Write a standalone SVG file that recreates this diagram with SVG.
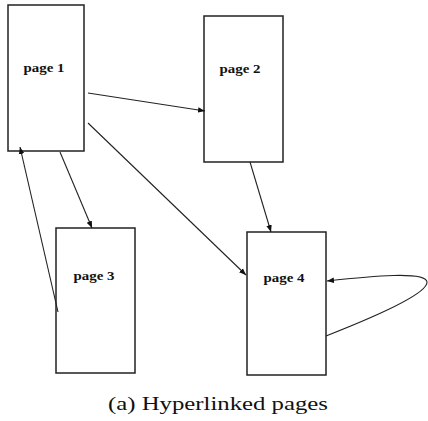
<svg xmlns="http://www.w3.org/2000/svg" width="428" height="421" viewBox="0 0 428 421">
<style>
.box{fill:#fff;stroke:#222;stroke-width:1.5}
.lbl{font-family:"Liberation Serif","Times New Roman",serif;font-weight:bold;font-size:13px;fill:#111;text-anchor:middle}
.edge{fill:none;stroke:#222;stroke-width:1.1}
.cap{font-family:"Liberation Serif","Times New Roman",serif;font-size:18px;fill:#111;text-anchor:middle}
</style>
<defs>
<marker id="arr" viewBox="0 0 10 10" refX="10" refY="5" markerWidth="7" markerHeight="7" markerUnits="userSpaceOnUse" orient="auto">
<path d="M0,1 L10,5 L0,9 z" fill="#111"/>
</marker>
</defs>
<rect width="428" height="421" fill="#fff"/>
<g id="page1"><rect class="box" x="8" y="5" width="76" height="146"/><text class="lbl" x="44" y="72" textLength="41" lengthAdjust="spacingAndGlyphs">page 1</text></g>
<g id="page2"><rect class="box" x="204" y="16" width="79" height="146"/><text class="lbl" x="240" y="73" textLength="41" lengthAdjust="spacingAndGlyphs">page 2</text></g>
<g id="page3"><rect class="box" x="56" y="228" width="79" height="145"/><text class="lbl" x="94" y="280" textLength="41" lengthAdjust="spacingAndGlyphs">page 3</text></g>
<g id="page4"><rect class="box" x="247" y="232" width="79" height="143"/><text class="lbl" x="284" y="282" textLength="41" lengthAdjust="spacingAndGlyphs">page 4</text></g>
<g id="connectors">
<line class="edge" x1="88" y1="93" x2="205" y2="111" marker-end="url(#arr)"/>
<line class="edge" x1="88" y1="123" x2="246" y2="275" marker-end="url(#arr)"/>
<line class="edge" x1="60" y1="152" x2="92" y2="228" marker-end="url(#arr)"/>
<line class="edge" x1="58" y1="312" x2="20" y2="147" marker-end="url(#arr)"/>
<line class="edge" x1="250" y1="162" x2="271" y2="232" marker-end="url(#arr)"/>
<path class="edge" d="M326,336 C372,318 428,294 427,282 C426,271 372,276 327,281" marker-end="url(#arr)"/>
</g>
<text class="cap" x="218" y="410" textLength="220" lengthAdjust="spacingAndGlyphs">(a) Hyperlinked pages</text>
</svg>
